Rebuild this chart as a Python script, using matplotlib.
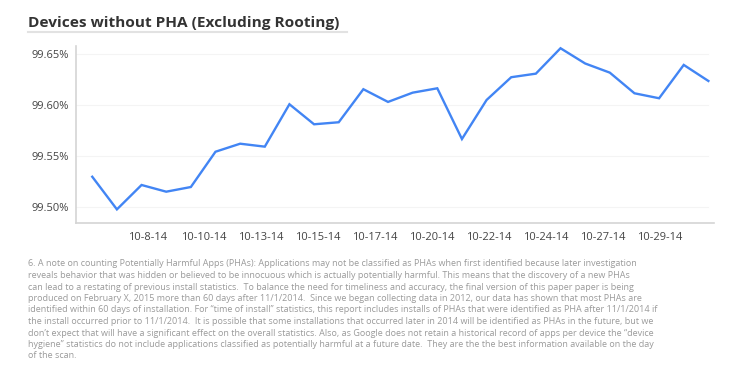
import numpy as np
import matplotlib
matplotlib.use("Agg")
from matplotlib import pyplot as plt
from matplotlib.lines import Line2D

# daily share of devices without PHA, one value per day (index 0..25)
day_index = list(range(26))
pct_clean = [
    99.5295, 99.4974, 99.5214, 99.5148, 99.5194, 99.5541, 99.5620, 99.5591,
    99.6008, 99.5811, 99.5831, 99.6156, 99.6031, 99.6122, 99.6165, 99.5666,
    99.6050, 99.6274, 99.6309, 99.6559, 99.6409, 99.6319, 99.6116, 99.6067,
    99.6395, 99.6237,
]
date_labels = ["10-8-14", "10-10-14", "10-13-14", "10-15-14", "10-17-14",
               "10-20-14", "10-22-14", "10-24-14", "10-27-14", "10-29-14"]
y_ticks = [99.50, 99.55, 99.60, 99.65]

title = "Devices without PHA (Excluding Rooting)"
footnote_lines = [
    "6. A note on counting Potentially Harmful Apps (PHAs): Applications may not be classified as PHAs when first identified because later investigation",
    "reveals behavior that was hidden or believed to be innocuous which is actually potentially harmful. This means that the discovery of a new PHAs",
    "can lead to a restating of previous install statistics.  To balance the need for timeliness and accuracy, the final version of this paper paper is being",
    "produced on February X, 2015 more than 60 days after 11/1/2014.  Since we began collecting data in 2012, our data has shown that most PHAs are",
    "identified within 60 days of installation. For \u201ctime of install\u201d statistics, this report includes installs of PHAs that were identified as PHA after 11/1/2014 if",
    "the install occurred prior to 11/1/2014.  It is possible that some installations that occurred later in 2014 will be identified as PHAs in the future, but we",
    "don\u2019t expect that will have a significant effect on the overall statistics. Also, as Google does not retain a historical record of apps per device the \u201cdevice",
    "hygiene\u201d statistics do not include applications classified as potentially harmful at a future date.  They are the the best information available on the day",
    "of the scan.",
]

plt.rcParams["font.family"] = ["Open Sans", "DejaVu Sans"]

W, H = 750, 377
fig = plt.figure(figsize=(W / 100, H / 100), dpi=100)
fig.patch.set_facecolor("white")

# title with thin rule underneath
fig.text(28 / W, 1 - 27 / H, title, fontsize=11.1, weight="bold", color="#333333", va="baseline")
fig.add_artist(Line2D([28 / W, 347 / W], [1 - 31.5 / H] * 2, color="#e2e2e2", lw=1.5))

ax = fig.add_axes([76 / W, 1 - 222.7 / H, (714.3 - 76) / W, (222.7 - 46) / H])
ax.plot(day_index, pct_clean, color="#4285f4", lw=1.7, solid_joinstyle="miter")

ax.set_xlim(-0.66, 25.24)
ax.set_ylim(99.4843, 99.6581)

ax.set_yticks(y_ticks)
ax.set_yticklabels([f"{v:.2f}%" for v in y_ticks])
tick_pos = 2.23 + np.arange(len(date_labels)) * 2.312
ax.set_xticks(tick_pos)
ax.set_xticklabels(date_labels)
ax.tick_params(length=0, labelsize=8, labelcolor="#444444")
ax.tick_params(axis="x", pad=7)
ax.tick_params(axis="y", pad=5)

for v in y_ticks:
    ax.plot([day_index[0] - 0.66, day_index[-1]], [v, v], color="#f4f4f4", lw=0.8, zorder=0)

for side in ("top", "right"):
    ax.spines[side].set_visible(False)
for side in ("left", "bottom"):
    ax.spines[side].set_color("#d4d4d4")
    ax.spines[side].set_linewidth(1.2)

for i, line in enumerate(footnote_lines):
    fig.text(27.7 / W, 1 - (264 + i * 11.5) / H, line, fontsize=6.5,
             color="#9a9a9a", va="center")

fig.savefig("out.png", dpi=100)
